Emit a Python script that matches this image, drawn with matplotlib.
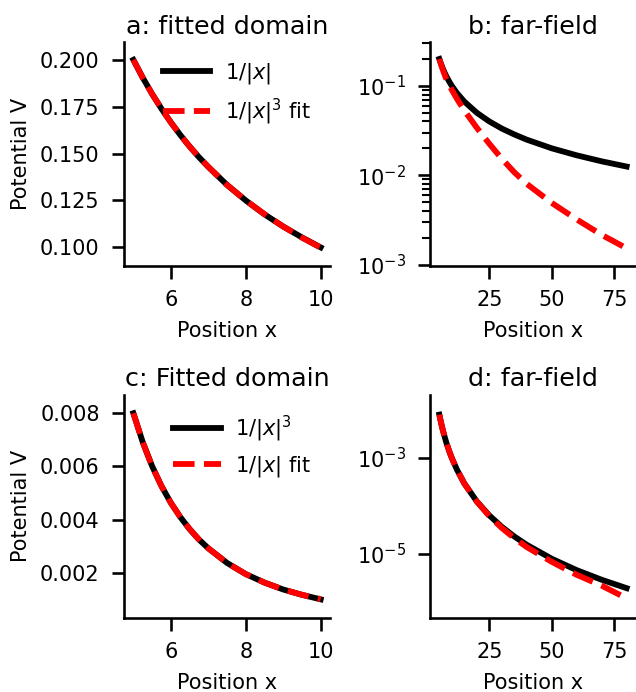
import matplotlib
matplotlib.use("Agg")
import matplotlib.pyplot as plt
from matplotlib.ticker import NullLocator

# fitted domain, x = 5..10
x_near = [5.0, 5.25, 5.5, 5.75, 6.0, 6.25, 6.5, 6.75, 7.0, 7.5, 8.0, 8.5, 9.0, 9.5, 10.0]
inv1_near = [0.200, 0.1905, 0.1818, 0.1739, 0.1667, 0.1600, 0.1538, 0.1481, 0.1429,
             0.1333, 0.1250, 0.1176, 0.1111, 0.1053, 0.1000]
fit3_near = [0.200, 0.1904, 0.1818, 0.1739, 0.1666, 0.1600, 0.1538, 0.1482, 0.1429,
             0.1333, 0.1250, 0.1177, 0.1111, 0.1052, 0.0998]
inv3_near = [0.00800, 0.00691, 0.00601, 0.00526, 0.00463, 0.00410, 0.00364, 0.00325, 0.00292,
             0.00237, 0.00195, 0.00163, 0.00137, 0.00117, 0.00100]
fit1_near = [0.00800, 0.00691, 0.00600, 0.00526, 0.00463, 0.00410, 0.00365, 0.00325, 0.00292,
             0.00237, 0.00195, 0.00163, 0.00137, 0.00117, 0.00101]

# far field, x = 5..80
x_far = [5, 5.5, 6, 6.5, 7, 7.5, 8, 9, 10, 12, 15, 20, 25, 30, 35, 40, 50, 60, 70, 80]
inv1_far = [0.200, 0.1818, 0.1667, 0.1538, 0.1429, 0.1333, 0.125, 0.1111, 0.100, 0.0833,
            0.0667, 0.050, 0.040, 0.0333, 0.0286, 0.025, 0.020, 0.0167, 0.0143, 0.0125]
fit3_far = [0.200, 0.180, 0.163, 0.149, 0.136, 0.125, 0.116, 0.102, 0.090, 0.072,
            0.053, 0.034, 0.0225, 0.0153, 0.0108, 0.0080, 0.0049, 0.0032, 0.00215, 0.00152]
inv3_far = [8.0e-3, 6.01e-3, 4.63e-3, 3.64e-3, 2.92e-3, 2.37e-3, 1.95e-3, 1.37e-3, 1.0e-3, 5.79e-4,
            2.96e-4, 1.25e-4, 6.4e-5, 3.7e-5, 2.33e-5, 1.56e-5, 8.0e-6, 4.63e-6, 2.92e-6, 1.95e-6]
fit1_far = [8.0e-3, 6.0e-3, 4.63e-3, 3.64e-3, 2.92e-3, 2.37e-3, 1.95e-3, 1.37e-3, 1.0e-3, 5.78e-4,
            2.95e-4, 1.24e-4, 6.2e-5, 3.5e-5, 2.15e-5, 1.40e-5, 6.9e-6, 3.7e-6, 2.2e-6, 1.2e-6]

plt.rcParams.update({
    "font.family": "DejaVu Sans",
    "font.size": 15,
    "axes.titlesize": 18.3,
    "axes.labelsize": 15,
    "xtick.labelsize": 15,
    "ytick.labelsize": 15,
    "legend.fontsize": 15,
    "axes.linewidth": 1.875,
    "xtick.major.width": 1.875,
    "ytick.major.width": 1.875,
    "xtick.minor.width": 1.5,
    "ytick.minor.width": 1.5,
    "xtick.major.size": 9,
    "ytick.major.size": 9,
    "xtick.minor.size": 6,
    "ytick.minor.size": 6,
    "xtick.major.pad": 8.5,
    "ytick.major.pad": 8.5,
    "xtick.minor.pad": 8.5,
    "ytick.minor.pad": 8.5,
    "lines.linewidth": 4.2,
    "legend.handlelength": 2.3,
    "legend.handletextpad": 0.7,
})

fig, axs = plt.subplots(2, 2, figsize=(6.36, 6.92), dpi=100)
fig.subplots_adjust(left=0.195, right=1.0, top=0.939, bottom=0.107, wspace=0.485, hspace=0.578)

ax = axs[0, 0]
ax.plot(x_near, inv1_near, color="black", label=r"$1/|x|$")
ax.plot(x_near, fit3_near, color="red", ls="--", label=r"$1/|x|^3$ fit")
ax.set_ylim(0.0903, 0.2094)
ax.set_xticks([6, 8, 10])
ax.set_yticks([0.100, 0.125, 0.150, 0.175, 0.200])
ax.set_title("a: fitted domain")
ax.set_ylabel("Potential V", labelpad=6.5)
ax.set_xlabel("Position x", labelpad=8)
ax.legend(frameon=False, loc="upper right")

ax = axs[0, 1]
ax.plot(x_far, inv1_far, color="black")
ax.plot(x_far, fit3_far, color="red", ls="--")
ax.set_yscale("log")
ax.set_ylim(9.75e-4, 0.308)
ax.set_yticks([1e-3, 1e-2, 1e-1])
ax.set_xticks([25, 50, 75])
ax.set_title("b: far-field")
ax.set_xlabel("Position x", labelpad=8)

ax = axs[1, 0]
ax.plot(x_near, inv3_near, color="black", label=r"$1/|x|^3$")
ax.plot(x_near, fit1_near, color="red", ls="--", label=r"$1/|x|$ fit")
ax.set_ylim(0.0003, 0.0087)
ax.set_xticks([6, 8, 10])
ax.set_yticks([0.002, 0.004, 0.006, 0.008])
ax.set_title("c: Fitted domain")
ax.set_ylabel("Potential V", labelpad=6.5)
ax.set_xlabel("Position x", labelpad=8)
ax.legend(frameon=False, loc="upper right")

ax = axs[1, 1]
ax.plot(x_far, inv3_far, color="black")
ax.plot(x_far, fit1_far, color="red", ls="--")
ax.set_yscale("log")
ax.set_ylim(10 ** -6.33, 10 ** -1.68)
ax.set_yticks([1e-3, 1e-5])
ax.yaxis.set_minor_locator(NullLocator())
ax.set_xticks([25, 50, 75])
ax.set_title("d: far-field")
ax.set_xlabel("Position x", labelpad=8)

for ax in axs.flat:
    ax.spines["top"].set_visible(False)
    ax.spines["right"].set_visible(False)

fig.savefig("out.png", dpi=100)
